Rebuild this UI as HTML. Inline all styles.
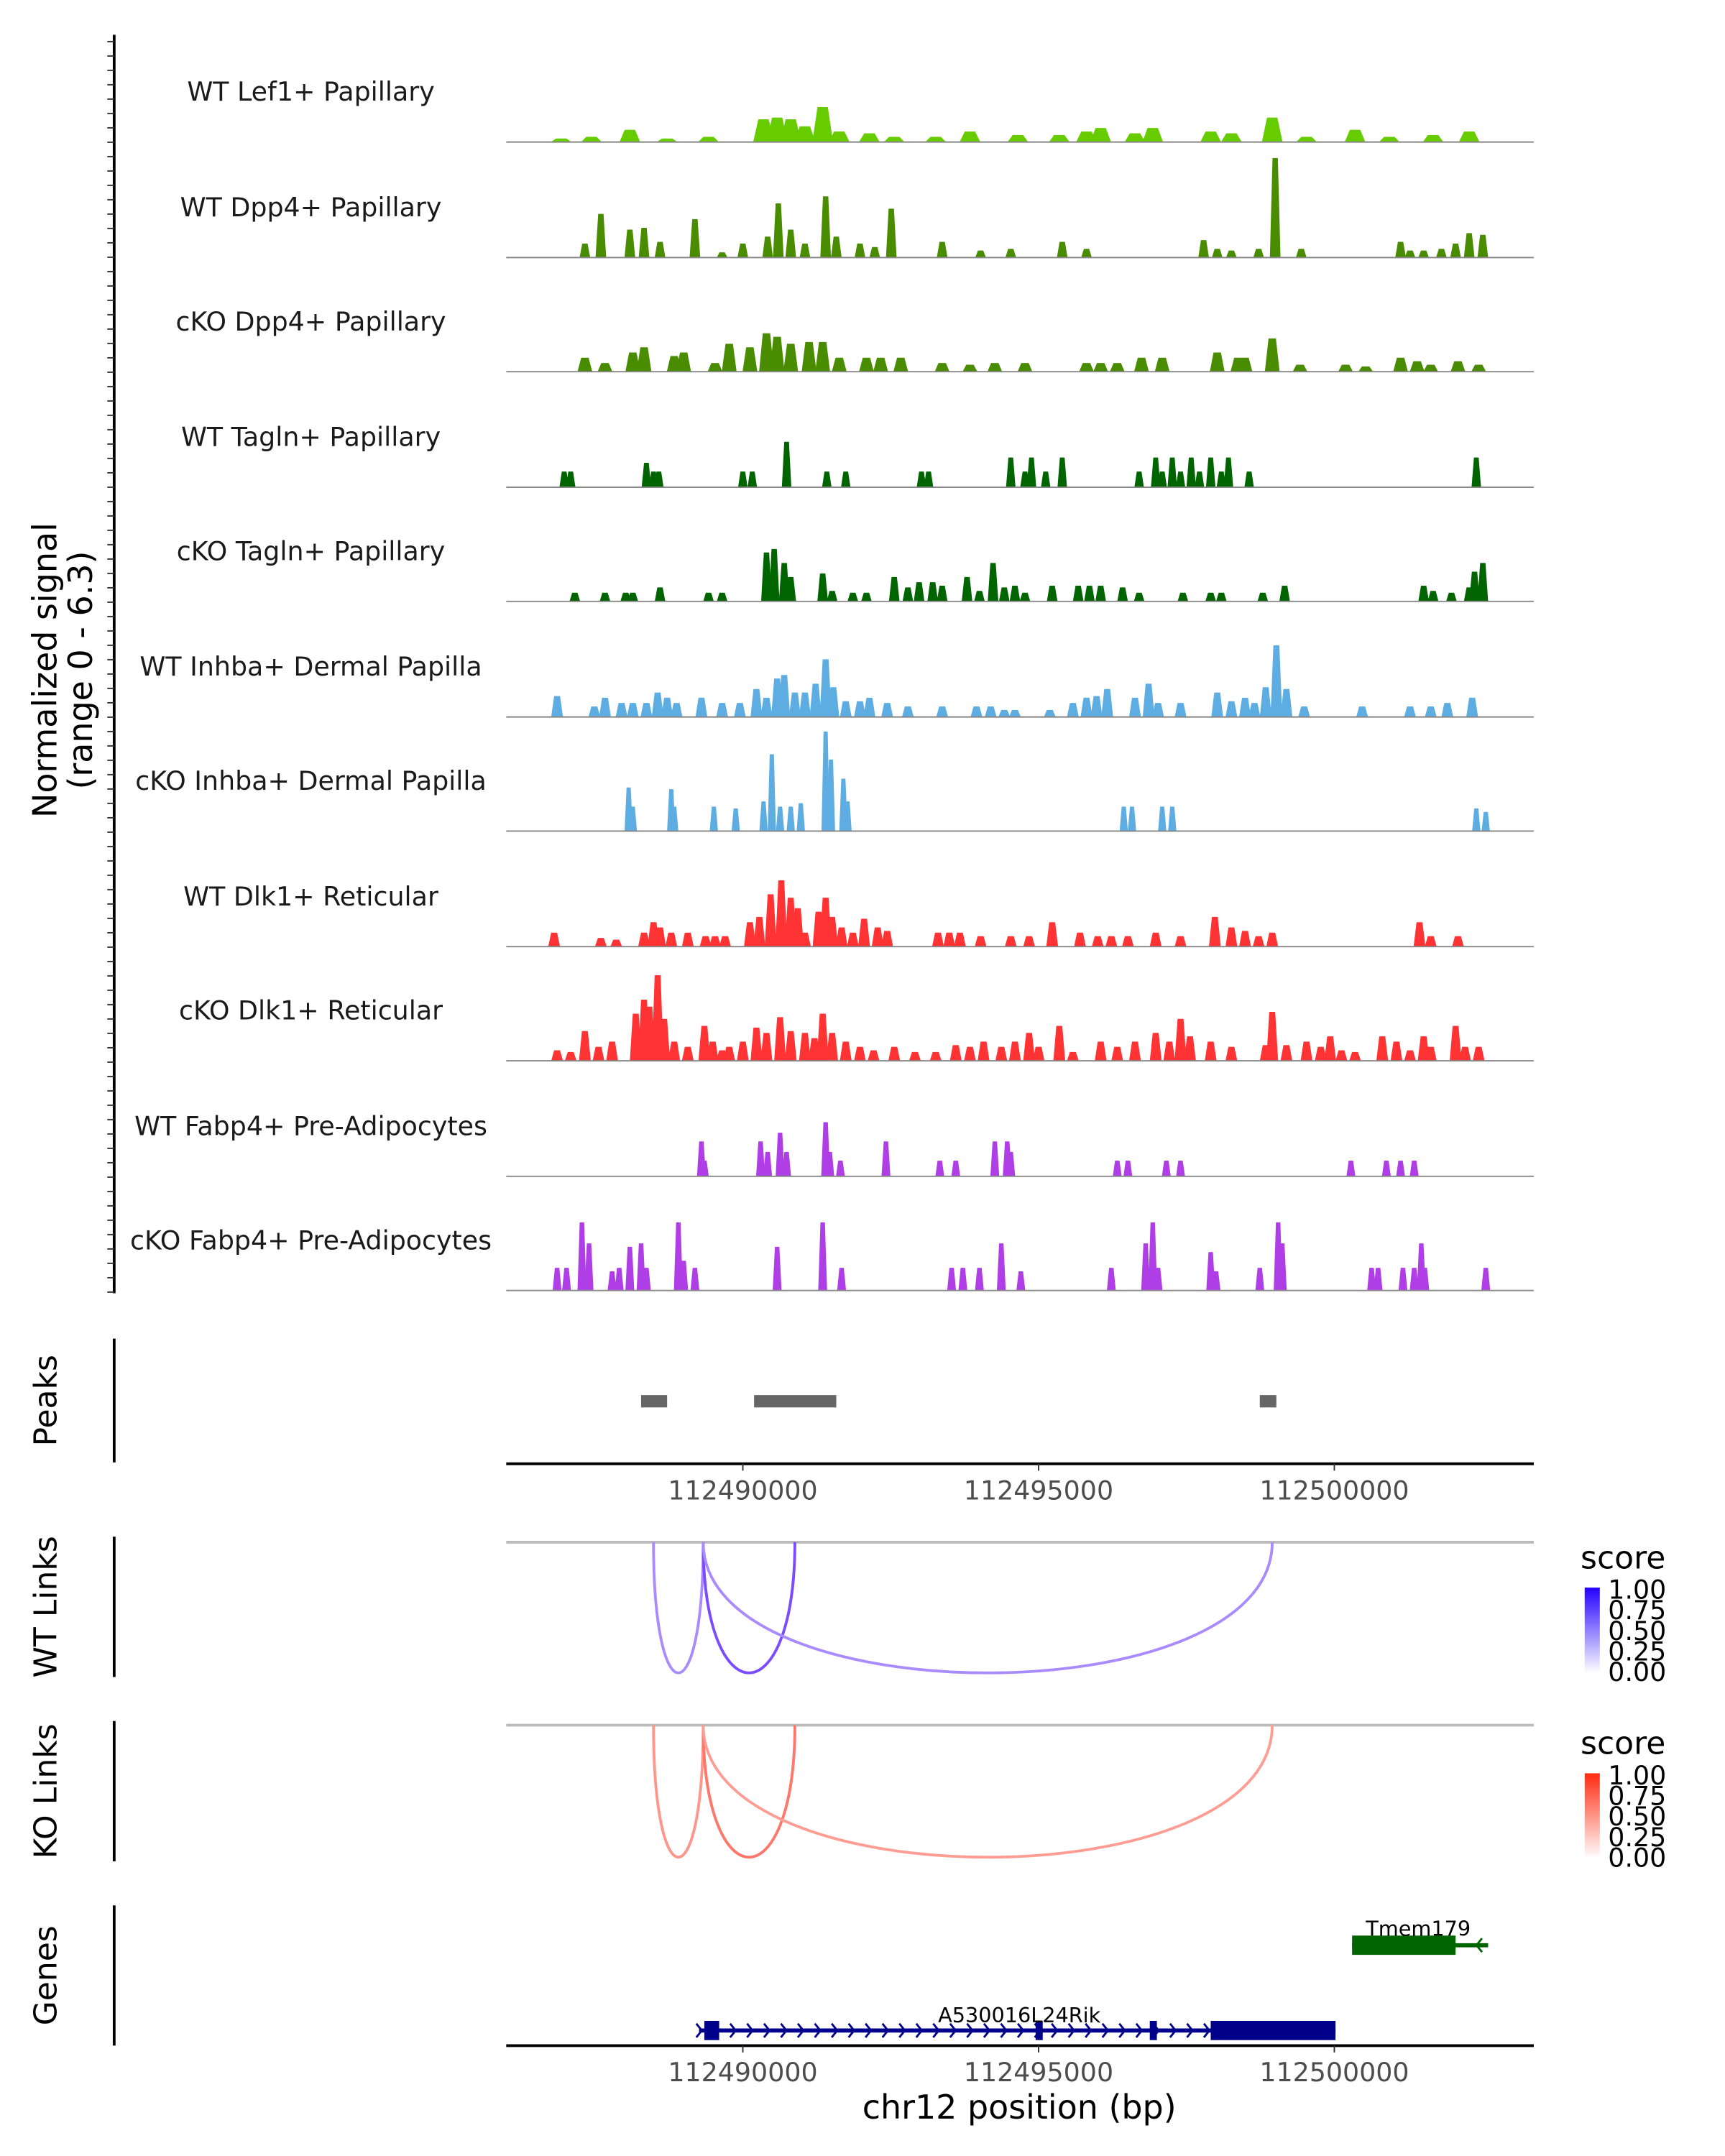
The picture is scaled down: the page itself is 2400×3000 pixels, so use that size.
<!DOCTYPE html>
<html><head><meta charset="utf-8"><style>
html,body{margin:0;padding:0;background:#fff}
svg{display:block}
text{font-family:"DejaVu Sans","Liberation Sans",sans-serif}
</style></head><body>
<svg id="chart" width="2400" height="3000" viewBox="0 0 1254 1567" xmlns="http://www.w3.org/2000/svg"></svg>
<script>
const regionStartKb = 112486, regionEndKb = 112503.372;
const maxSignal = 6.3;
const trackNames = ["WT Lef1+ Papillary","WT Dpp4+ Papillary","cKO Dpp4+ Papillary","WT Tagln+ Papillary","cKO Tagln+ Papillary","WT Inhba+ Dermal Papilla","cKO Inhba+ Dermal Papilla","WT Dlk1+ Reticular","cKO Dlk1+ Reticular","WT Fabp4+ Pre-Adipocytes","cKO Fabp4+ Pre-Adipocytes"];
const trackColors = ["#66CC00","#4A8C00","#4A8C00","#006400","#006400","#5DADE2","#5DADE2","#FF3333","#FF3333","#B03EE6","#B03EE6"];
const trackWidthKb = [0.35,0.18,0.25,0.16,0.18,0.2,0.14,0.2,0.2,0.15,0.15];
// peak positions (kb offset from region start) and signal heights
const pos0 = [0.93,1.44,2.09,2.72,3.42,4.35,4.58,4.81,5.05,5.35,5.63,6.14,6.56,7.26,7.84,8.65,9.35,9.81,10.05,10.63,10.93,11.91,12.26,12.95,13.53,14.35,14.93,15.67,16.28];
const val0 = [0.2,0.3,0.7,0.2,0.3,1.3,1.4,1.3,0.9,2.0,0.6,0.5,0.3,0.3,0.6,0.4,0.4,0.6,0.8,0.5,0.8,0.6,0.5,1.4,0.3,0.7,0.3,0.4,0.6];
const pos1 = [1.33,1.60,2.09,2.33,2.60,3.19,3.65,4.00,4.42,4.60,4.81,5.05,5.40,5.58,5.98,6.23,6.51,7.37,8.02,8.53,9.40,9.81,11.79,12.02,12.26,12.72,13.00,13.44,15.12,15.28,15.51,15.81,16.05,16.28,16.51];
const val1 = [0.8,2.5,1.6,1.7,0.9,2.2,0.3,0.8,1.2,3.1,1.6,0.8,3.5,1.2,0.8,0.6,2.8,0.9,0.4,0.5,0.9,0.5,1.0,0.5,0.4,0.5,5.7,0.5,0.9,0.4,0.4,0.5,0.8,1.4,1.3];
const pos2 = [1.33,1.67,2.14,2.33,2.84,3.00,3.53,3.77,4.12,4.40,4.58,4.81,5.12,5.35,5.63,6.09,6.33,6.67,7.37,7.84,8.26,8.77,9.81,10.05,10.33,10.74,11.09,12.02,12.37,12.49,12.95,13.42,14.19,14.53,15.12,15.40,15.63,16.09,16.44];
const val2 = [0.8,0.5,1.1,1.4,0.9,1.1,0.5,1.6,1.4,2.2,2.0,1.6,1.7,1.7,0.8,0.8,0.8,0.8,0.5,0.4,0.5,0.5,0.5,0.5,0.5,0.8,0.8,1.1,0.8,0.8,1.9,0.4,0.4,0.3,0.8,0.6,0.4,0.6,0.4];
const pos3 = [0.98,1.09,2.37,2.49,2.58,4.00,4.16,4.74,5.42,5.74,7.02,7.14,8.53,8.77,8.88,9.12,9.40,10.70,10.98,11.09,11.26,11.40,11.58,11.72,11.91,12.09,12.21,12.56,16.40];
const val3 = [0.9,0.9,1.4,0.9,0.9,0.9,0.9,2.6,0.9,0.9,0.9,0.9,1.7,0.9,1.7,0.9,1.7,0.9,1.7,0.9,1.7,0.9,1.7,0.9,1.7,0.9,1.7,0.9,1.7];
const pos4 = [1.16,1.67,2.02,2.14,2.60,3.42,3.65,4.40,4.53,4.70,4.81,5.35,5.51,5.86,6.09,6.56,6.79,6.98,7.21,7.37,7.79,8.00,8.23,8.42,8.60,8.77,9.23,9.67,9.86,10.05,10.42,10.70,11.44,11.91,12.09,12.79,13.16,15.51,15.67,15.98,16.28,16.37,16.51];
const val4 = [0.5,0.5,0.5,0.5,0.8,0.5,0.5,2.8,3.0,2.2,1.4,1.6,0.6,0.5,0.5,1.4,0.8,1.1,1.1,0.9,1.4,0.6,2.2,0.8,0.9,0.5,0.9,0.9,0.9,0.9,0.8,0.5,0.5,0.5,0.5,0.5,0.9,0.9,0.6,0.5,0.8,1.7,2.2];
const pos5 = [0.86,1.49,1.67,1.95,2.14,2.37,2.56,2.72,2.88,3.30,3.65,3.95,4.23,4.40,4.58,4.70,4.88,5.05,5.23,5.40,5.53,5.74,5.98,6.14,6.44,6.79,7.37,7.95,8.19,8.42,8.60,9.19,9.58,9.81,9.98,10.16,10.63,10.86,11.02,11.40,12.02,12.26,12.49,12.65,12.84,13.02,13.19,13.49,14.47,15.28,15.63,15.91,16.33];
const val5 = [1.2,0.6,1.1,0.8,0.8,0.8,1.4,1.1,0.8,1.1,0.8,0.8,1.6,1.1,2.2,2.4,1.4,1.4,1.9,3.3,1.7,0.9,0.9,1.1,0.8,0.6,0.6,0.6,0.6,0.4,0.4,0.4,0.8,1.1,1.2,1.6,1.1,1.9,0.8,0.8,1.4,0.9,1.1,0.8,1.7,4.1,1.6,0.6,0.6,0.6,0.6,0.8,1.1];
const pos6 = [2.07,2.14,2.79,2.84,3.51,3.88,4.35,4.49,4.63,4.81,4.98,5.40,5.49,5.70,5.77,10.44,10.58,11.09,11.26,16.40,16.56];
const val6 = [2.5,1.4,2.4,1.4,1.4,1.3,1.7,4.4,1.4,1.4,1.6,5.7,4.1,3.0,1.7,1.4,1.4,1.4,1.4,1.3,1.1];
const pos7 = [0.81,1.60,1.86,2.33,2.49,2.60,2.79,3.07,3.37,3.53,3.70,4.12,4.28,4.47,4.65,4.81,4.93,5.05,5.28,5.40,5.51,5.67,5.86,6.05,6.28,6.44,7.30,7.49,7.67,8.02,8.53,8.84,9.23,9.70,10.00,10.23,10.51,10.98,11.40,11.98,12.26,12.49,12.72,12.95,15.44,15.63,16.09];
const val7 = [0.8,0.5,0.4,0.8,1.4,1.1,0.8,0.8,0.6,0.6,0.6,1.4,1.7,3.0,3.8,2.8,2.2,0.8,2.0,2.8,1.7,1.1,0.8,1.6,1.1,0.9,0.8,0.8,0.8,0.6,0.6,0.6,1.4,0.8,0.6,0.6,0.6,0.8,0.6,1.7,1.1,0.9,0.6,0.8,1.4,0.6,0.6];
const pos8 = [0.86,1.09,1.33,1.56,1.79,2.19,2.33,2.42,2.56,2.67,2.84,3.07,3.35,3.49,3.65,3.77,4.00,4.23,4.40,4.63,4.81,5.05,5.21,5.35,5.51,5.74,5.98,6.21,6.56,6.91,7.26,7.60,7.84,8.07,8.37,8.60,8.84,9.00,9.35,9.58,10.05,10.33,10.63,10.98,11.21,11.40,11.56,11.91,12.26,12.84,12.95,13.19,13.53,13.77,13.93,14.12,14.35,14.81,15.05,15.28,15.51,15.63,16.05,16.21,16.44];
const val8 = [0.6,0.5,1.7,0.8,1.1,2.7,3.5,3.1,4.9,2.4,1.1,0.8,2.0,1.1,0.6,0.8,1.1,1.9,1.6,2.5,1.7,1.6,1.3,2.7,1.6,1.1,0.8,0.6,0.8,0.5,0.5,0.9,0.8,1.1,0.8,1.1,1.6,0.8,2.0,0.5,1.1,0.8,1.1,1.6,1.1,2.4,1.4,1.1,0.8,0.9,2.8,0.9,1.1,0.8,1.4,0.6,0.5,1.4,1.1,0.6,1.4,0.8,2.0,0.8,0.8];
const pos9 = [3.30,3.35,4.30,4.42,4.63,4.74,5.40,5.47,5.65,6.42,7.33,7.60,8.26,8.47,8.53,10.33,10.51,11.16,11.40,14.28,14.88,15.12,15.35];
const val9 = [2.0,0.9,2.0,1.4,2.5,1.4,3.1,1.4,0.9,2.0,0.9,0.9,2.0,2.0,1.4,0.9,0.9,0.9,0.9,0.9,0.9,0.9,0.9];
const pos10 = [0.86,1.02,1.28,1.40,1.79,1.91,2.09,2.28,2.37,2.91,3.00,3.19,4.58,5.35,5.67,7.53,7.72,8.00,8.37,8.70,10.23,10.81,10.93,11.02,11.91,12.00,12.74,13.05,13.12,14.63,14.74,15.16,15.35,15.47,15.53,16.56];
const val10 = [1.3,1.3,3.9,2.7,1.1,1.3,2.5,2.7,1.3,3.9,1.7,1.3,2.5,3.9,1.3,1.3,1.3,1.3,2.7,1.1,1.3,2.7,3.9,1.3,2.2,1.1,1.3,3.9,2.7,1.3,1.3,1.3,1.3,2.7,1.3,1.3];
const trackPos = [pos0,pos1,pos2,pos3,pos4,pos5,pos6,pos7,pos8,pos9,pos10];
const trackVal = [val0,val1,val2,val3,val4,val5,val6,val7,val8,val9,val10];
const peakStart = [2.28,4.19,12.74];
const peakEnd = [2.72,5.58,13.02];
const axisTicksKb = [112490,112495,112500];
const tickLabels = ["112490000","112495000","112500000"];
const linkStart = [2.49,3.33,3.33];
const linkEnd = [3.33,4.88,12.95];
const wtScores = [0.3,0.65,0.3];
const koScores = [0.35,0.55,0.3];
const geneExonStart = [3.35,8.95,10.88,11.91];
const geneExonEnd = [3.60,9.07,11.00,14.02];
const tmemStart = 14.30, tmemEnd = 16.05, tmemLineEnd = 16.60;
const legendLabels = ["1.00","0.75","0.50","0.25","0.00"];

const NS = "http://www.w3.org/2000/svg";
const svg = document.getElementById("chart");
const X0 = 368, X1 = 1115;
function xs(offKb){ return X0 + (offKb) / (regionEndKb - regionStartKb) * (X1 - X0); }
function xg(kb){ return xs(kb - regionStartKb); }
function el(tag, attrs, parent){ const e = document.createElementNS(NS, tag); for (const k in attrs) e.setAttribute(k, attrs[k]); (parent||svg).appendChild(e); return e; }
function txt(s, attrs, parent){ const e = el("text", attrs, parent); e.textContent = s; return e; }

const baselines = [103,187,270,354,437,521,604,688,771,855,938];
const trackH = 80;
const ys = v => v / maxSignal * trackH;
for (let t = 0; t < 11; t++) {
  const g = el("g", {});
  
  
  const b = baselines[t];
  const lab = txt(trackNames[t], {x:226, y:b-30, "text-anchor":"middle", "font-size":19, fill:"#1a1a1a"}, g);
  
  
  const w = trackWidthKb[t];
  for (let i = 0; i < trackPos[t].length; i++) {
    const p = trackPos[t][i], h = ys(trackVal[t][i]);
    const xa = xs(p - w/2), xb = xs(p + w/2), xm1 = xs(p - w/4), xm2 = xs(p + w/4);
    const poly = el("polygon", {points:`${xa},${b} ${xm1},${b-h} ${xm2},${b-h} ${xb},${b}`, fill:trackColors[t]}, g);
    
    
  }
  const bl = el("line", {x1:X0, x2:X1, y1:b, y2:b, stroke:"#888", "stroke-width":1}, g);
  
  
}
const ax = el("line", {x1:83, x2:83, y1:25, y2:940, stroke:"#000", "stroke-width":2});


for (let y = 30; y <= 940; y += 10.45) {
  const tk = el("line", {x1:78, x2:83, y1:y, y2:y, stroke:"#333", "stroke-width":1});
  
  
}
const yt = txt("", {x:0, y:0, "font-size":24, "text-anchor":"middle", transform:"translate(41,487) rotate(-90)", fill:"#000"});


const ts1 = el("tspan", {x:0, dy:0}, yt); ts1.textContent = "Normalized signal";
const ts2 = el("tspan", {x:0, dy:26}, yt); ts2.textContent = "(range 0 - 6.3)";

const panels = [["Peaks",1018,973,1063],["WT Links",1168,1117,1219],["KO Links",1302,1251,1353],["Genes",1436,1385,1487]];
panels.forEach(p => {
  const l = el("line", {x1:83, x2:83, y1:p[2], y2:p[3], stroke:"#000", "stroke-width":2});
  
  
  const t = txt(p[0], {x:0, y:0, "font-size":23, "text-anchor":"middle", transform:`translate(41,${p[1]}) rotate(-90)`});
  
  
});

for (let i = 0; i < peakStart.length; i++) {
  const r = el("rect", {x:xs(peakStart[i]), y:1014, width:xs(peakEnd[i])-xs(peakStart[i]), height:9, fill:"#666"});
  
  
}
function drawXAxis(y){
  const l = el("line", {x1:X0, x2:X1, y1:y, y2:y, stroke:"#000", "stroke-width":2});
  
  
  axisTicksKb.forEach((k,i) => {
    const tk = el("line", {x1:xg(k), x2:xg(k), y1:y, y2:y+5, stroke:"#333"});
    
    
    const tl = txt(tickLabels[i], {x:xg(k), y:y+26, "text-anchor":"middle", "font-size":19, fill:"#4d4d4d"});
    
    
  });
}
drawXAxis(1064);

function mix(c, s){ return `rgb(${Math.round(255+(c[0]-255)*s)},${Math.round(255+(c[1]-255)*s)},${Math.round(255+(c[2]-255)*s)})`; }
function drawLinks(top, bottom, scores, col, name){
  const base = el("line", {x1:X0, x2:X1, y1:top, y2:top, stroke:"#bbb", "stroke-width":2});
  
  
  for (let i = 0; i < linkStart.length; i++) {
    const a = xs(linkStart[i]), b = xs(linkEnd[i]);
    const yc = (bottom - 0.25*top)/0.75;
    const p = el("path", {d:`M${a},${top} C${a},${yc} ${b},${yc} ${b},${top}`, fill:"none", stroke:mix(col, 0.25+0.7*scores[i]), "stroke-width":2});
    
    
  }
}
drawLinks(1121, 1216, wtScores, [68,0,255], "wt-link");
drawLinks(1254, 1350, koScores, [255,40,20], "ko-link");

function legend(y, col, id){
  const g = el("g", {});
  
  
  txt("score", {x:1149, y:y, "font-size":23}, g);
  const grad = el("linearGradient", {id:id+"-g", x1:0, y1:1, x2:0, y2:0}, g);
  el("stop", {offset:0, "stop-color":"#fff"}, grad);
  el("stop", {offset:1, "stop-color":col}, grad);
  el("rect", {x:1152, y:y+14, width:11, height:62, fill:`url(#${id}-g)`}, g);
  legendLabels.forEach((s,i) => txt(s, {x:1169, y:y+22+i*15, "font-size":19, fill:"#000"}, g));
}
legend(1140, "#2200ff", "wt-score-legend");
legend(1275, "#ff2a10", "ko-score-legend");

const gy = 1476;
const gl = el("line", {x1:xs(3.26), x2:xs(14.02), y1:gy, y2:gy, stroke:"#00008B", "stroke-width":3});


for (let x = xs(3.26); x < xs(11.91); x += 12.3) {
  el("path", {d:`M${x-2},${gy-5} L${x+2},${gy} L${x-2},${gy+5}`, fill:"none", stroke:"#00008B", "stroke-width":1.5});
}
for (let i = 0; i < geneExonStart.length; i++) {
  const r = el("rect", {x:xs(geneExonStart[i]), y:gy-7, width:xs(geneExonEnd[i])-xs(geneExonStart[i]), height:14, fill:"#00008B"});
  
  
}
const g1 = txt("A530016L24Rik", {x:741, y:1470, "text-anchor":"middle", "font-size":15});


const ty = 1414;
el("line", {x1:xs(tmemStart), x2:xs(tmemLineEnd), y1:ty, y2:ty, stroke:"#006400", "stroke-width":3});
[15.4,16.45].forEach(k => el("path", {d:`M${xs(k)+2},${ty-5} L${xs(k)-2},${ty} L${xs(k)+2},${ty+5}`, fill:"none", stroke:"#006400", "stroke-width":1.5}));
const tr = el("rect", {x:xs(tmemStart), y:ty-7, width:xs(tmemEnd)-xs(tmemStart), height:14, fill:"#006400"});


const g2 = txt("Tmem179", {x:1031, y:1407, "text-anchor":"middle", "font-size":15});


drawXAxis(1487);
const xt = txt("chr12 position (bp)", {x:741, y:1540, "text-anchor":"middle", "font-size":24});


</script>
</body></html>
